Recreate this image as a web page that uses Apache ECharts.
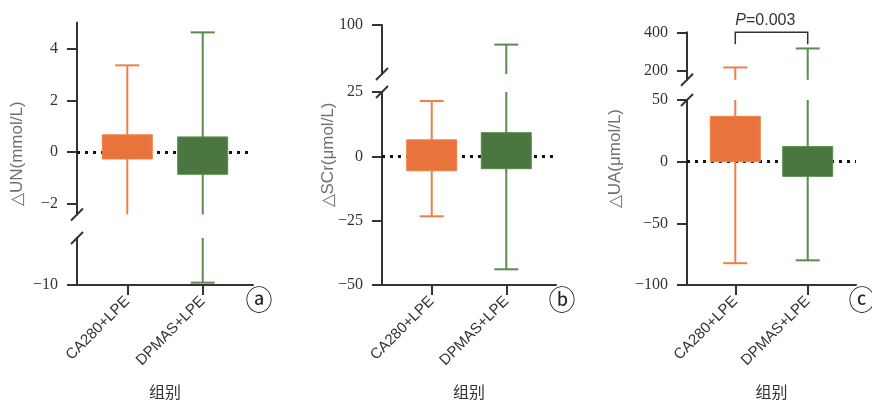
<!DOCTYPE html>
<html><head><meta charset="utf-8">
<script src="https://cdn.jsdelivr.net/npm/echarts@6/dist/echarts.min.js"></script>
<style>html,body{margin:0;padding:0;background:#fff}#c{width:872px;height:404px}</style>
</head><body><div id="c"></div><script>
// ---------------- data ----------------
const categories = ['CA280+LPE', 'DPMAS+LPE'];
const xAxisTitle = '组别';
const yTitles = ['△UN(mmol/L)', '△SCr(μmol/L)', '△UA(μmol/L)'];
const panelTags = ['ⓐ', 'ⓑ', 'ⓒ'];

// Panel a: ΔUN (min of CA280+LPE falls inside the axis break)
const unMin = [-3.0, -9.9];
const unQ1 = [-0.26, -0.85];
const unQ3 = [0.67, 0.59];
const unMax = [3.35, 4.62];
const unSegments = [[-2.4, 5], [-10, -8]];      // upper, lower axis pieces
const unTicks = [[-2, 0, 2, 4], [-10]];

// Panel b: ΔSCr
const scrMin = [-23.3, -43.9];
const scrQ1 = [-5.6, -4.8];
const scrQ3 = [6.4, 9.2];
const scrMax = [21.5, 92];
const scrSegments = [[80, 100], [-50, 25]];
const scrTicks = [[100], [-50, -25, 0, 25]];

// Panel c: ΔUA
const uaMin = [-82.3, -80.0];
const uaQ1 = [0, -11.9];
const uaQ3 = [36.7, 12.2];
const uaMax = [215, 315];
const uaSegments = [[150, 400], [-100, 50]];
const uaTicks = [[200, 400], [-100, -50, 0, 50]];

const pLetter = 'P';
const pValue = '0.003';
const pPanel = 2;

// ---------------- layout / style ----------------
const panels = [
  {min: unMin, q1: unQ1, q3: unQ3, max: unMax, segs: unSegments, ticks: unTicks,
   left: 77, width: 176, pieces: [{top: 22.5, height: 192}, {top: 238, height: 47}], titleOff: 60},
  {min: scrMin, q1: scrQ1, q3: scrQ3, max: scrMax, segs: scrSegments, ticks: scrTicks,
   left: 382, width: 174, pieces: [{top: 25, height: 49}, {top: 92, height: 193}], titleOff: 54},
  {min: uaMin, q1: uaQ1, q3: uaQ3, max: uaMax, segs: uaSegments, ticks: uaTicks,
   left: 687, width: 169, pieces: [{top: 32.3, height: 47.5}, {top: 100, height: 185}], titleOff: 72}
];
const boxColors = ['#E8743B', '#4A7640'];
const whiskerColors = ['#F07E4A', '#5A8B4C'];
const axisColor = '#333';
const SERIF = '"Liberation Serif", "Times New Roman", serif';
const SANS = '"Liberation Sans", Arial, sans-serif';
const X_MIN = -2 / 3, X_MAX = 5 / 3;
const BOX_W = 50, CAP_W = 24;
const minus = v => String(v).replace('-', '\u2212');

const grids = [], xAxes = [], yAxes = [], series = [];
panels.forEach((p, pi) => {
  p.segs.forEach((seg, si) => {
    const gi = pi * 2 + si;
    const isLower = si === 1;
    grids.push({left: p.left, width: p.width, top: p.pieces[si].top, height: p.pieces[si].height,
      containLabel: false, outerBoundsMode: 'none'});
    xAxes.push({
      type: 'value', gridIndex: gi, min: X_MIN, max: X_MAX, show: isLower, position: 'bottom',
      splitLine: {show: false},
      axisLine: {show: isLower, onZero: false, lineStyle: {color: axisColor, width: 2}},
      axisTick: {show: isLower, customValues: categories.map((c, i) => i), length: 10, inside: false,
        lineStyle: {color: axisColor, width: 2}},
      axisLabel: {show: isLower, customValues: categories.map((c, i) => i), rotate: 45, margin: 14,
        formatter: v => categories[Math.round(v)] || '', color: '#333', fontSize: 15, fontFamily: SANS},
      name: isLower ? xAxisTitle : '', nameLocation: 'middle', nameGap: 99,
      nameTextStyle: {fontSize: 16, color: '#333', fontFamily: '"Noto Sans CJK SC", sans-serif'}
    });
    yAxes.push({
      type: 'value', gridIndex: gi, min: seg[0], max: seg[1], position: 'left',
      splitLine: {show: false},
      axisLine: {show: true, onZero: false, lineStyle: {color: axisColor, width: 2}},
      axisTick: {show: true, customValues: p.ticks[si], length: 10, inside: false,
        lineStyle: {color: axisColor, width: 2}},
      axisLabel: {show: true, customValues: p.ticks[si], margin: 19, formatter: minus,
        color: '#333', fontSize: 16, fontFamily: SERIF}
    });
    const lo = seg[0], hi = seg[1];
    series.push({
      type: 'custom', xAxisIndex: gi, yAxisIndex: gi, z: 5, silent: true,
      data: categories.map((c, i) => [i, p.min[i], p.q1[i], p.q3[i], p.max[i]]),
      encode: {x: 0, y: [1, 2, 3, 4]},
      renderItem: (params, api) => {
        const xi = api.value(0), mn = api.value(1), q1 = api.value(2), q3 = api.value(3), mx = api.value(4);
        const clamp = v => Math.max(lo, Math.min(hi, v));
        const pt = v => api.coord([xi, v]);
        const wc = whiskerColors[xi], bc = boxColors[xi];
        const ch = [];
        if (mx >= lo && mn <= hi) {
          const a = pt(clamp(mn)), b = pt(clamp(mx));
          ch.push({type: 'line', shape: {x1: a[0], y1: a[1], x2: b[0], y2: b[1]},
            style: {stroke: wc, lineWidth: 2}});
        }
        [mn, mx].forEach(v => {
          if (v >= lo && v <= hi) {
            const c = pt(v);
            ch.push({type: 'line', shape: {x1: c[0] - CAP_W / 2, y1: c[1], x2: c[0] + CAP_W / 2, y2: c[1]},
              style: {stroke: wc, lineWidth: 2}});
          }
        });
        if (q3 >= lo && q1 <= hi) {
          const a = pt(clamp(q3)), b = pt(clamp(q1));
          ch.push({type: 'rect', shape: {x: a[0] - BOX_W / 2, y: a[1], width: BOX_W, height: b[1] - a[1]},
            style: {fill: bc, stroke: wc, lineWidth: 1}});
        }
        return {type: 'group', children: ch};
      }
    });
    if (lo <= 0 && hi >= 0) {
      series.push({
        type: 'line', xAxisIndex: gi, yAxisIndex: gi, z: 1, data: [], silent: true,
        markLine: {silent: true, symbol: 'none', label: {show: false}, animation: false,
          lineStyle: {color: '#111', type: [3, 5], width: 3, cap: 'butt'},
          data: [{yAxis: 0}]}
      });
    }
  });
});

const chart = echarts.init(document.getElementById('c'), null, {renderer: 'canvas'});
chart.setOption({animation: false, grid: grids, xAxis: xAxes, yAxis: yAxes, series: series});

// ---------------- decorations (axis breaks, titles, tags, bracket) ----------------
const graphics = [];
panels.forEach((p, pi) => {
  const gu = pi * 2, gl = pi * 2 + 1;
  const upBottom = chart.convertToPixel({gridIndex: gu}, [X_MIN, p.segs[0][0]]);
  const upTop = chart.convertToPixel({gridIndex: gu}, [X_MIN, p.segs[0][1]]);
  const lowTop = chart.convertToPixel({gridIndex: gl}, [X_MIN, p.segs[1][1]]);
  const lowRight = chart.convertToPixel({gridIndex: gl}, [X_MAX, p.segs[1][0]]);
  [upBottom, lowTop].forEach(pt => graphics.push({type: 'line',
    shape: {x1: pt[0] - 6, y1: pt[1] + 6, x2: pt[0] + 6, y2: pt[1] - 6},
    style: {stroke: axisColor, lineWidth: 2}}));
  graphics.push({type: 'text', x: lowRight[0] + 6, y: lowRight[1] + 18,
    style: {text: panelTags[pi], fontSize: 27, fill: '#222', align: 'center', verticalAlign: 'middle',
      fontFamily: '"DejaVu Sans", "Noto Sans CJK SC", sans-serif'}});
  graphics.push({type: 'text', x: upTop[0] - p.titleOff, y: (upTop[1] + lowRight[1]) / 2,
    rotation: Math.PI / 2,
    style: {text: yTitles[pi], fontSize: 17, fill: '#707070', align: 'center', verticalAlign: 'middle',
      fontFamily: SANS}});
});
{
  const gu = pPanel * 2;
  const top = panels[pPanel].segs[0][1];
  const l = chart.convertToPixel({gridIndex: gu}, [0, top]);
  const r = chart.convertToPixel({gridIndex: gu}, [1, top]);
  graphics.push({type: 'polyline',
    shape: {points: [[l[0], l[1] + 12], [l[0], l[1]], [r[0], r[1]], [r[0], r[1] + 12]]},
    style: {stroke: '#333', lineWidth: 1.5, fill: null}});
  graphics.push({type: 'text', x: l[0], y: l[1] - 12,
    style: {text: '{i|' + pLetter + '}=' + pValue, align: 'left', verticalAlign: 'middle',
      fontSize: 16, fill: '#333', fontFamily: SANS,
      rich: {i: {fontStyle: 'italic', fontSize: 16, fill: '#333', fontFamily: SANS}}}});
}
chart.setOption({graphic: graphics});
</script></body></html>
